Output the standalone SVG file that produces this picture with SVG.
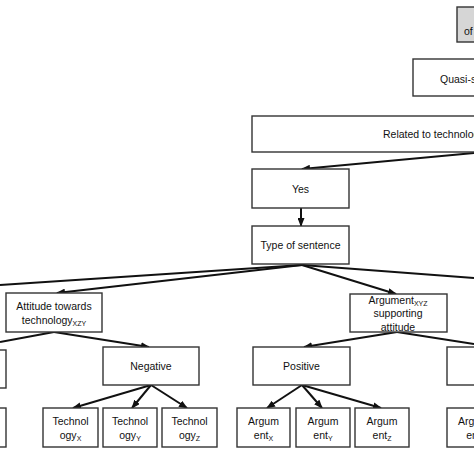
<svg xmlns="http://www.w3.org/2000/svg" width="474" height="474" viewBox="0 0 474 474">
<style>
.box{fill:#fff;stroke:#333;stroke-width:1.4}
.gray{fill:#d6d6d6}
text{font-family:"Liberation Sans",Arial,sans-serif;font-size:10.5px;fill:#111;text-anchor:middle}
.st{text-anchor:start}
.sub{font-size:7px}
.edge{stroke:#111;stroke-width:2;fill:none}
.arr{marker-end:url(#ah)}
</style>
<defs>
<marker id="ah" markerUnits="userSpaceOnUse" markerWidth="9" markerHeight="7" refX="8" refY="3.5" orient="auto">
<path d="M0,0 L9,3.5 L0,7 z" fill="#111"/>
</marker>
</defs>
<rect width="474" height="474" fill="#fff"/>
<g id="connectors">
<line class="edge arr" x1="474" y1="153" x2="302" y2="169"/>
<line class="edge arr" x1="301" y1="208" x2="301" y2="226"/>
<line class="edge" x1="302" y1="265" x2="0" y2="285"/>
<line class="edge arr" x1="302" y1="265" x2="57" y2="293"/>
<line class="edge arr" x1="302" y1="265" x2="396" y2="294"/>
<line class="edge" x1="302" y1="265" x2="474" y2="278"/>
<line class="edge" x1="54" y1="332" x2="0" y2="342"/>
<line class="edge arr" x1="54" y1="332" x2="149" y2="347"/>
<line class="edge arr" x1="151" y1="385" x2="73" y2="408"/>
<line class="edge arr" x1="151" y1="385" x2="132" y2="408"/>
<line class="edge arr" x1="151" y1="385" x2="187" y2="408"/>
<line class="edge arr" x1="397" y1="332" x2="304" y2="347"/>
<line class="edge" x1="397" y1="332" x2="474" y2="344"/>
<line class="edge arr" x1="302" y1="385" x2="267" y2="408"/>
<line class="edge arr" x1="302" y1="385" x2="322" y2="408"/>
<line class="edge arr" x1="302" y1="385" x2="381" y2="408"/>
</g>
<g id="doc"><rect class="box gray" x="457" y="7" width="60" height="35"/><text class="st" x="464" y="35">of</text></g>
<g id="quasi"><rect class="box" x="413" y="59" width="120" height="37"/><text class="st" x="440" y="83">Quasi-sentence</text></g>
<g id="related"><rect class="box" x="252" y="116" width="300" height="36"/><text class="st" x="383" y="138">Related to technology</text></g>
<g id="yes"><rect class="box" x="252" y="169" width="97" height="39"/><text x="300.5" y="193">Yes</text></g>
<g id="type"><rect class="box" x="252" y="226" width="97" height="38"/><text x="300.5" y="249">Type of sentence</text></g>
<g id="attitude"><rect class="box" x="6" y="293" width="96" height="39"/><text x="54" y="310">Attitude towards</text><text x="54" y="324">technology<tspan class="sub" dy="2">XZY</tspan></text></g>
<g id="argument"><rect class="box" x="350" y="294" width="97" height="38"/><text x="398" y="304">Argument<tspan class="sub" dy="2">XYZ</tspan></text><text x="398" y="317">supporting</text><text x="398" y="331">attitude</text></g>
<g id="left-mid"><rect class="box" x="-91" y="350" width="97" height="38"/></g>
<g id="left-bot"><rect class="box" x="-48" y="408" width="54" height="39"/></g>
<g id="negative"><rect class="box" x="103" y="347" width="96" height="38"/><text x="151" y="370">Negative</text></g>
<g id="techx"><rect class="box" x="43" y="408" width="55" height="39"/><text x="70.5" y="424.5">Technol</text><text x="70.5" y="438.5">ogy<tspan class="sub" dy="2">X</tspan></text></g>
<g id="techy"><rect class="box" x="103" y="408" width="54" height="39"/><text x="130" y="424.5">Technol</text><text x="130" y="438.5">ogy<tspan class="sub" dy="2">Y</tspan></text></g>
<g id="techz"><rect class="box" x="162" y="408" width="55" height="39"/><text x="189.5" y="424.5">Technol</text><text x="189.5" y="438.5">ogy<tspan class="sub" dy="2">Z</tspan></text></g>
<g id="positive"><rect class="box" x="253" y="347" width="97" height="38"/><text x="301.5" y="370">Positive</text></g>
<g id="argx"><rect class="box" x="237" y="408" width="53" height="39"/><text x="263.5" y="424.5">Argum</text><text x="263.5" y="438.5">ent<tspan class="sub" dy="2">X</tspan></text></g>
<g id="argy"><rect class="box" x="296" y="408" width="54" height="39"/><text x="323" y="424.5">Argum</text><text x="323" y="438.5">ent<tspan class="sub" dy="2">Y</tspan></text></g>
<g id="argz"><rect class="box" x="355" y="408" width="54" height="39"/><text x="382" y="424.5">Argum</text><text x="382" y="438.5">ent<tspan class="sub" dy="2">Z</tspan></text></g>
<g id="right-mid"><rect class="box" x="447" y="347" width="97" height="38"/></g>
<g id="right-bot"><rect class="box" x="447" y="408" width="53" height="39"/><text x="473.5" y="424.5">Argum</text><text x="473.5" y="438.5">ent</text></g>
</svg>
